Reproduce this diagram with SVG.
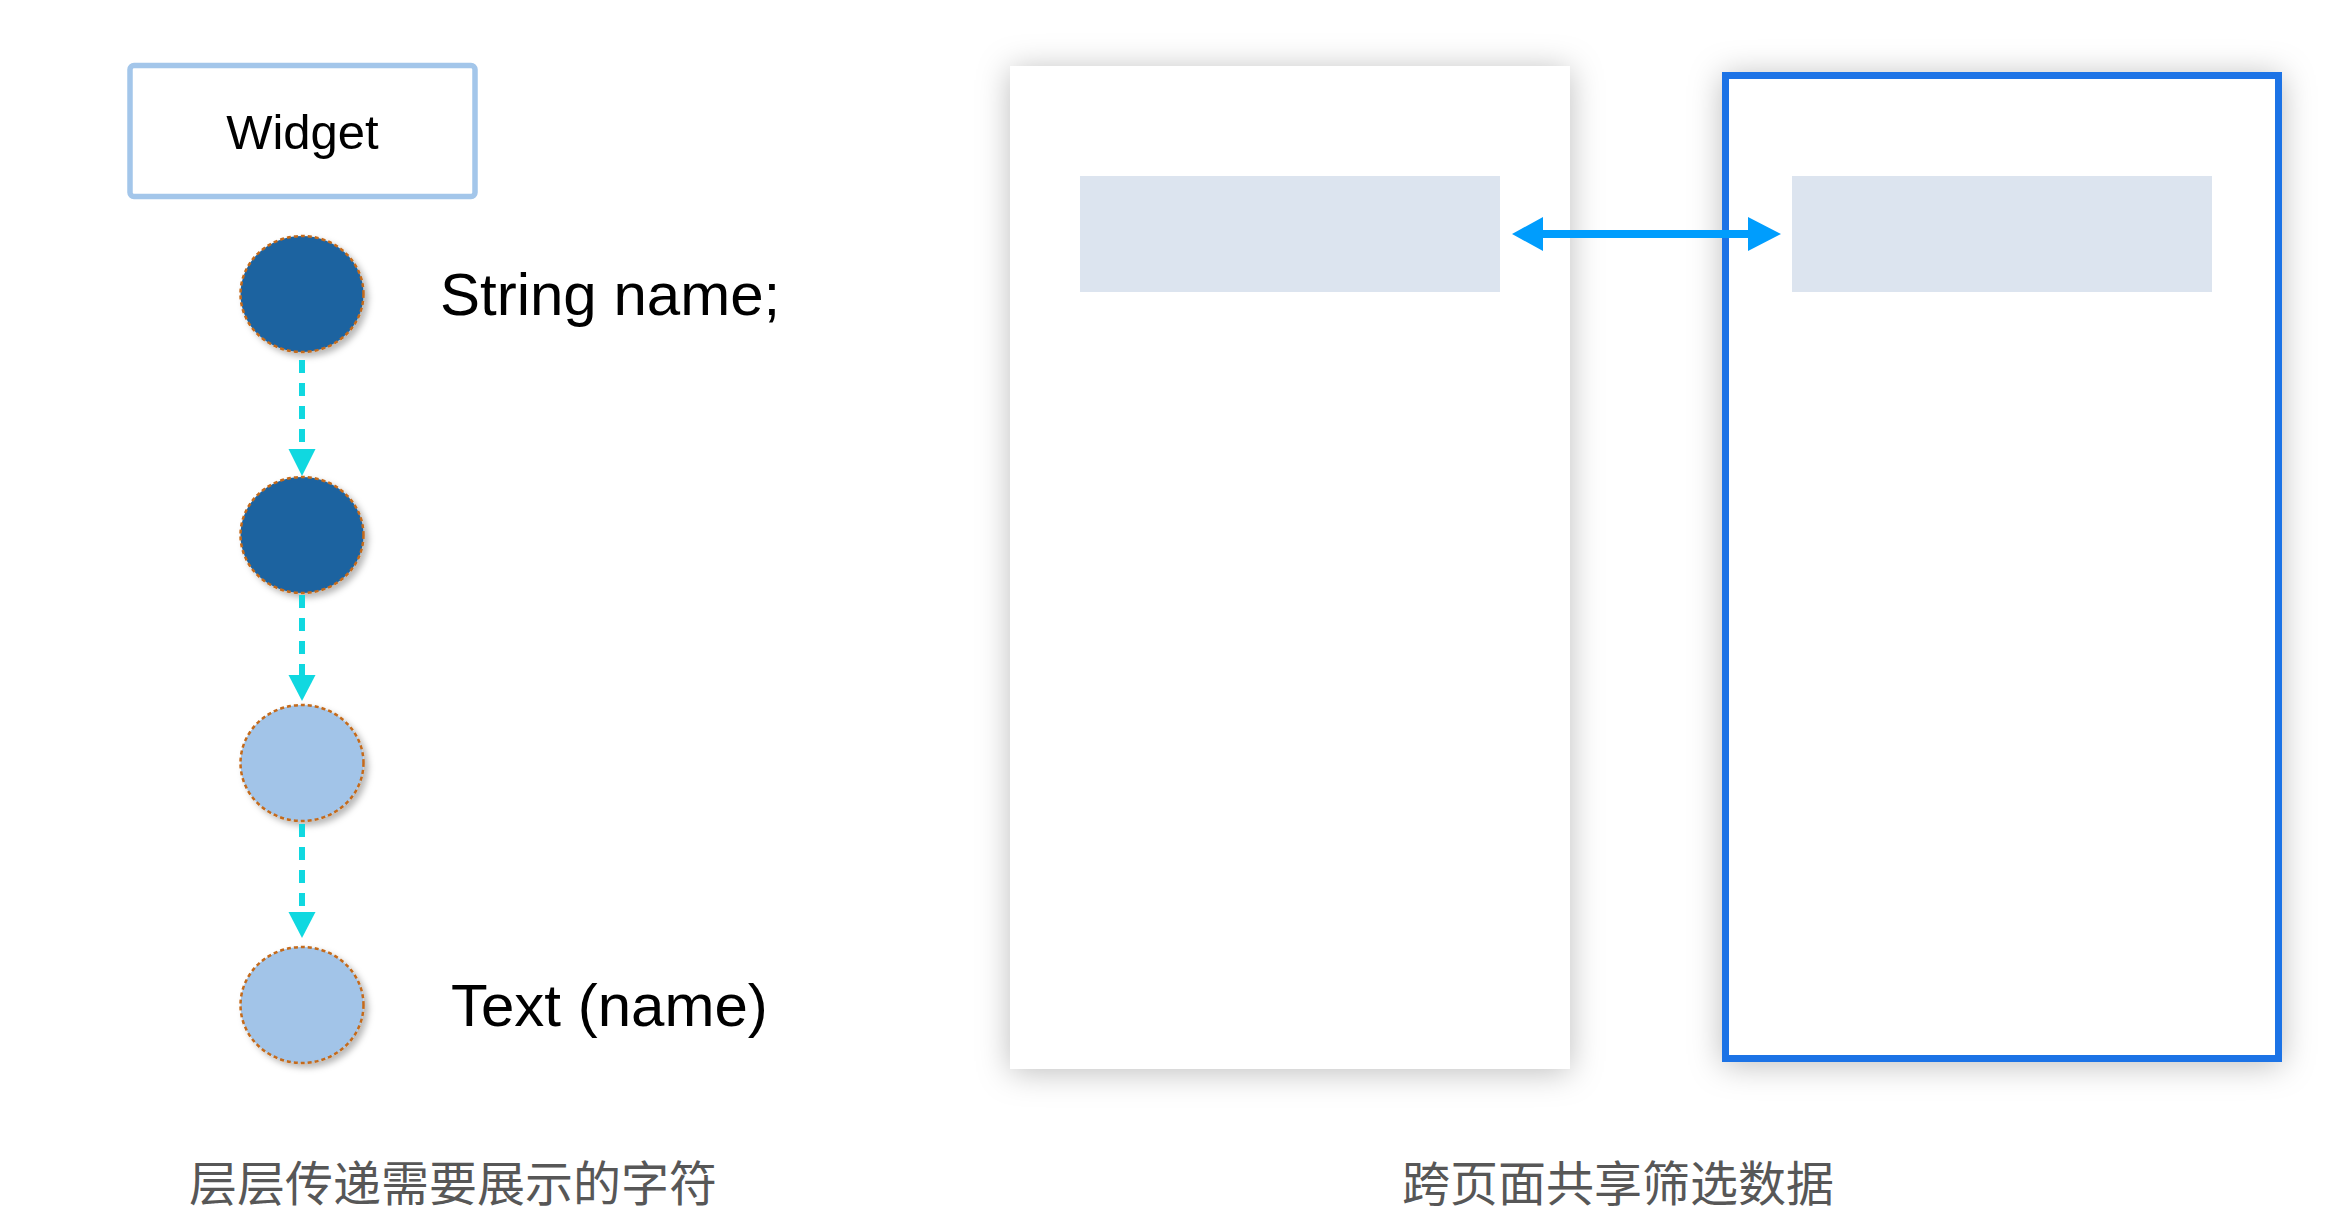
<svg xmlns="http://www.w3.org/2000/svg" width="2348" height="1230" viewBox="0 0 2348 1230">
<style>
.node-dark{fill:#1e63a0;stroke:#c46a1a;stroke-width:2.5;stroke-dasharray:4 3}
.node-light{fill:#a2c4e8;stroke:#c46a1a;stroke-width:2.5;stroke-dasharray:4 3}
.lbl{font-family:"Liberation Sans",Arial,Helvetica,sans-serif;fill:#000}
.cap{font-family:"Noto Sans CJK SC","Noto Sans",sans-serif;font-size:48px;fill:#575757}
.flow{stroke:#10d8e0;stroke-width:6;stroke-dasharray:13 10;fill:none}
</style>
<defs>
<filter id="sh" x="-20%" y="-20%" width="150%" height="150%">
<feDropShadow dx="4" dy="4" stdDeviation="3" flood-color="#000" flood-opacity="0.28"/>
</filter>
<filter id="psh" x="-15%" y="-10%" width="130%" height="120%">
<feDropShadow dx="0" dy="3" stdDeviation="16" flood-color="#000" flood-opacity="0.26"/>
</filter>
</defs>
<rect width="2348" height="1230" fill="#fff"/>

<g id="widget">
<rect x="130" y="65.5" width="345" height="131" rx="4" fill="#fff" stroke="#a3c6ea" stroke-width="5.5"/>
<text class="lbl" x="302.5" y="149" font-size="49" text-anchor="middle">Widget</text>
</g>

<g id="node1">
<ellipse class="node-dark" cx="302" cy="294" rx="61.5" ry="58" filter="url(#sh)"/>
</g>
<g id="node2">
<ellipse class="node-dark" cx="302" cy="535" rx="61.5" ry="58" filter="url(#sh)"/>
</g>
<g id="node3">
<ellipse class="node-light" cx="302" cy="763" rx="61.5" ry="58" filter="url(#sh)"/>
</g>
<g id="node4">
<ellipse class="node-light" cx="302" cy="1005" rx="61.5" ry="58" filter="url(#sh)"/>
</g>

<g id="labels">
<text class="lbl" x="440" y="315" font-size="60">String name;</text>
<text class="lbl" x="451" y="1026" font-size="60">Text (name)</text>
<text class="cap" x="453" y="1201" text-anchor="middle">层层传递需要展示的字符</text>
<text class="cap" x="1618" y="1201" text-anchor="middle">跨页面共享筛选数据</text>
</g>

<g id="page-left">
<rect x="1010" y="66" width="560" height="1003" fill="#fff" filter="url(#psh)"/>
<rect x="1080" y="176" width="420" height="116" fill="#dce4ef"/>
</g>

<g id="page-right">
<rect x="1725.5" y="75.5" width="553" height="983" fill="#fff" stroke="#1e73e6" stroke-width="7" filter="url(#psh)"/>
<rect x="1792" y="176" width="420" height="116" fill="#dce4ef"/>
</g>

<g id="connectors">
<line class="flow" x1="302" y1="360" x2="302" y2="450"/>
<path d="M288.5,449 L315.5,449 L302,476 Z" fill="#10d8e0"/>
<line class="flow" x1="302" y1="595" x2="302" y2="676"/>
<path d="M288.5,675 L315.5,675 L302,701 Z" fill="#10d8e0"/>
<line class="flow" x1="302" y1="824" x2="302" y2="913"/>
<path d="M288.5,912 L315.5,912 L302,938 Z" fill="#10d8e0"/>
<line x1="1540" y1="234" x2="1752" y2="234" stroke="#009dfd" stroke-width="8"/>
<path d="M1512,234 L1543,217 L1543,251 Z" fill="#009dfd"/>
<path d="M1781,234 L1748,217 L1748,251 Z" fill="#009dfd"/>
</g>
</svg>
